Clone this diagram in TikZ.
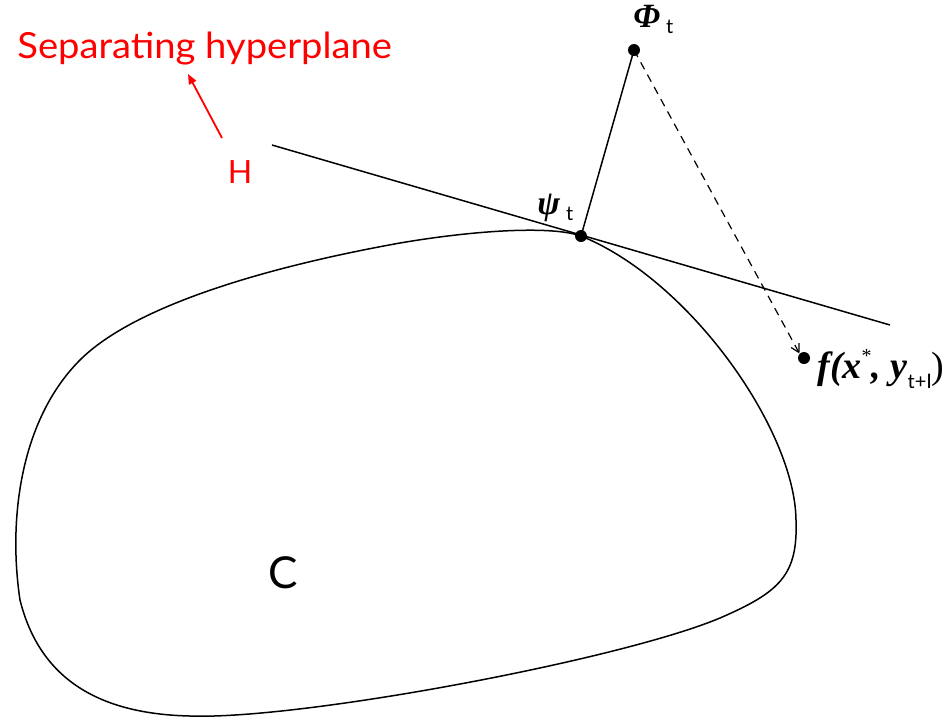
\documentclass[tikz,border=0pt]{standalone}
\usepackage{fontspec}
\setmainfont{Liberation Serif}
\newfontfamily\gillfont{Lato}
\usetikzlibrary{arrows.meta}
\definecolor{labred}{RGB}{255,0,0}
\tikzset{
  dotnode/.style={circle,fill=black,inner sep=0pt,minimum size=6pt},
  mathlab/.style={inner sep=0pt,font=\fontsize{17}{19}\selectfont\bfseries\itshape},
  redlab/.style={inner sep=0pt,text=labred,font=\gillfont\fontsize{16}{18}\selectfont},
  boundary/.style={line width=0.75pt,black},
  hyper/.style={line width=0.75pt,black},
  proj/.style={dashed,line width=0.6pt,dash pattern=on 4pt off 3pt,-{Straight Barb[length=4pt,width=4.5pt]}},
  redarrow/.style={labred,line width=0.9pt,-{Triangle[length=5pt,width=4pt]}}
}
\newcommand{\gsub}[1]{{\gillfont\normalfont\gillfont\fontsize{10}{11}\selectfont #1}}
\begin{document}
\begin{tikzpicture}[x=0.5pt,y=-0.5pt]
\useasboundingbox (0,0) rectangle (944,725);
% convex set C
\draw[boundary] (581,236)
  .. controls (690,280) and (795,430) .. (796,520)
  .. controls (798,575) and (780,592) .. (720,618)
  .. controls (620,660) and (300,720) .. (190,716)
  .. controls (100,714) and (40,680) .. (20,600)
  .. controls (8,520) and (20,420) .. (80,360)
  .. controls (130,310) and (250,270) .. (400,243)
  .. controls (470,231) and (550,225) .. (581,236) -- cycle;
% points
\node[dotnode] (psi) at (581,236) {};
\node[dotnode] (phi) at (634,50) {};
\node[dotnode] (fx) at (804,358) {};
% hyperplane
\coordinate (h1) at (272,145);
\coordinate (h2) at (890,325);
\draw[hyper] (h1) -- (h2);
% connectors
\draw[line width=0.75pt] (phi.center) -- (psi.center);
\draw[proj] (phi.center) -- (fx.north west);
% labels
\node[mathlab,anchor=base west] (philab) at (633,27) {Φ\hspace{3pt}\raisebox{-3pt}{\gsub{t}}};
\node[mathlab,anchor=base west] (psilab) at (537,214) {ψ\hspace{3pt}\raisebox{-3pt}{\gsub{t}}};
\node[mathlab,anchor=base west,font=\fontsize{19}{21}\selectfont\bfseries\itshape] (flab) at (817,378)
  {f(x\raisebox{8pt}{\fontsize{10}{10}\selectfont\normalfont*}, y\raisebox{-5pt}{\gsub{t+I}}\normalfont)};
\node[font=\gillfont\fontsize{22}{24}\selectfont,inner sep=0pt] (clab) at (283,573) {C};
\node[redlab] (hlab) at (240,172) {H};
\node[redlab,anchor=base west,font=\gillfont\fontsize{18}{20}\selectfont] (seplab) at (17,58) {\scalebox{1.06}[1]{Separating hyperplane}};
\coordinate (ra1) at (222,138);
\coordinate (ra2) at (188,74);
\draw[redarrow] (ra1) -- (ra2);
\end{tikzpicture}
\end{document}
